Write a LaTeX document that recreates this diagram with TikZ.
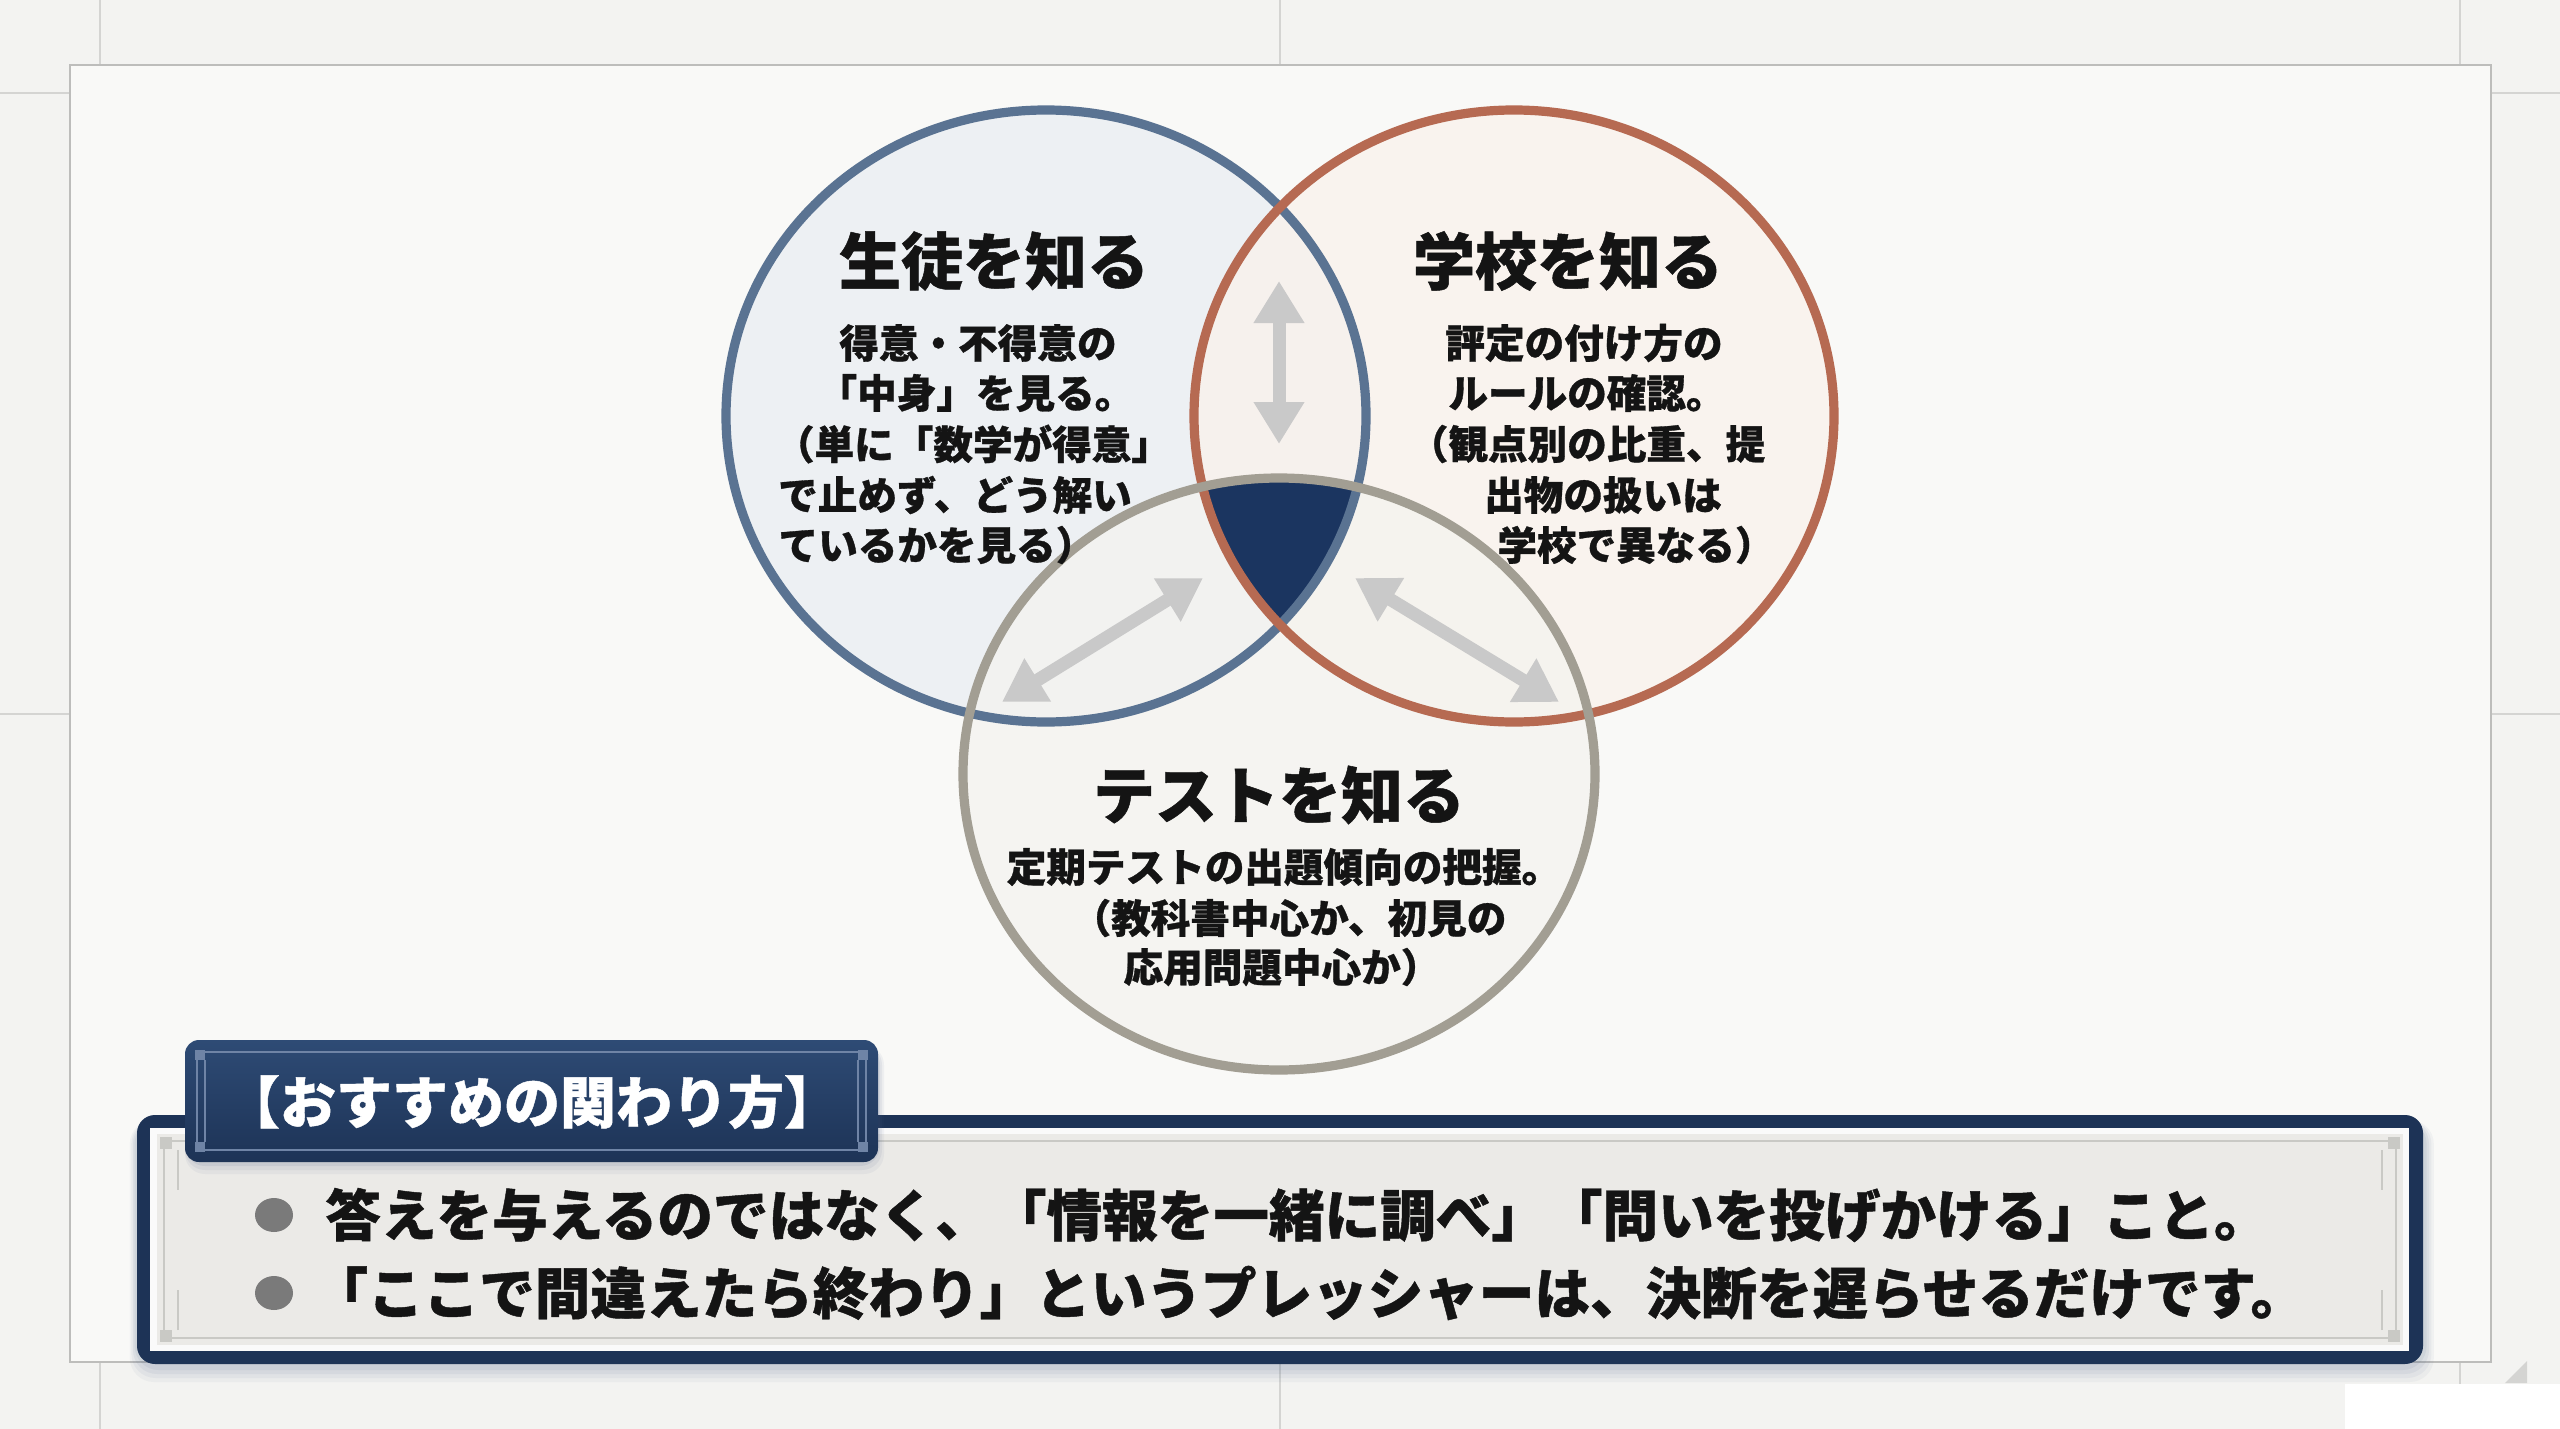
\documentclass[tikz,border=0pt]{standalone}
\usepackage{fontspec}
\setmainfont{Noto Sans CJK JP}[BoldFeatures={FakeBold=0.8}]
\usetikzlibrary{arrows.meta}
\definecolor{bg}{HTML}{F3F3F1}
\definecolor{paper}{HTML}{F9F9F7}
\definecolor{gridline}{HTML}{D4D4D2}
\definecolor{frameline}{HTML}{BDBDBB}
\definecolor{ringblue}{HTML}{5A7392}
\definecolor{ringred}{HTML}{B66A52}
\definecolor{ringgray}{HTML}{A29E93}
\definecolor{fillblue}{HTML}{EDF0F3}
\definecolor{fillred}{HTML}{FAF2EC}
\definecolor{fillgray}{HTML}{F4F3EF}
\definecolor{navy}{HTML}{1B3560}
\definecolor{boxnavy}{HTML}{1D3356}
\definecolor{boxnavylight}{HTML}{2E4B75}
\definecolor{arrowgray}{HTML}{C9C9C9}
\definecolor{ink}{HTML}{141414}
\definecolor{panel}{HTML}{EBEAE7}
\definecolor{panelline}{HTML}{C9C9C5}
\definecolor{tagline}{HTML}{6F84A6}
\definecolor{bulletgray}{HTML}{7A7A7A}
\definecolor{shadowblue}{HTML}{4A5F85}
\tikzset{
  ttl/.style={font=\bfseries\fontsize{31}{36}\selectfont, text=ink, inner sep=0pt},
  body/.style={font=\bfseries\fontsize{19.8}{24}\selectfont, text=ink, inner sep=0pt},
  bullettext/.style={font=\bfseries\fontsize{27.8}{34}\selectfont, text=ink, inner sep=0pt, anchor=west},
  tagtext/.style={font=\bfseries\fontsize{28}{34}\selectfont, text=white, inner sep=0pt},
  ring/.style={line width=4.6pt},
  dblarrow/.style={draw=arrowgray, line width=6.5pt,
    {Triangle[width=24pt,length=21pt]}-{Triangle[width=24pt,length=21pt]}},
  grid/.style={draw=gridline, line width=1pt},
  bulletdot/.style={fill=bulletgray, draw=none},
}
\begin{document}
\begin{tikzpicture}[x=0.5pt, y=-0.5pt]
% background and page frame
\fill[bg] (0,0) rectangle (2560,1429);
\useasboundingbox (0,0) rectangle (2560,1429);
\draw[grid] (100,0) -- (100,65);
\draw[grid] (1280,0) -- (1280,65);
\draw[grid] (2460,0) -- (2460,65);
\draw[grid] (0,93) -- (70,93);
\draw[grid] (2491,93) -- (2560,93);
\draw[grid] (0,714) -- (70,714);
\draw[grid] (2491,714) -- (2560,714);
\draw[grid] (100,1362) -- (100,1429);
\draw[grid] (1280,1362) -- (1280,1429);
\draw[grid] (2460,1362) -- (2460,1398);
\fill[white] (2345,1384) rectangle (2560,1429);
\fill[gridline] (2505,1383) -- (2527,1383) -- (2527,1361) -- cycle;
\draw[draw=frameline, fill=paper, line width=1.3pt] (70,65) rectangle (2491,1362);

% circle fills
\coordinate (cb) at (1046,416);
\coordinate (cr) at (1514,416);
\coordinate (cg) at (1279,774);
\fill[fillblue] (cb) ellipse [x radius=320, y radius=306];
\fill[fillred, opacity=0.75] (cr) ellipse [x radius=320, y radius=306];
\fill[fillgray, opacity=0.75] (cg) ellipse [x radius=316, y radius=296];
% triple intersection
\begin{scope}
  \clip (cb) ellipse [x radius=320, y radius=306];
  \clip (cr) ellipse [x radius=320, y radius=306];
  \fill[navy] (cg) ellipse [x radius=316, y radius=296];
\end{scope}
% rings
\draw[ring, ringblue] (cb) ellipse [x radius=320, y radius=306];
\draw[ring, ringred] (cr) ellipse [x radius=320, y radius=306];
\draw[ring, ringgray] (cg) ellipse [x radius=316, y radius=296];

% arrows
\coordinate (av1) at (1279,281);
\coordinate (av2) at (1279,444);
\coordinate (al1) at (1203,578);
\coordinate (al2) at (1002,702);
\coordinate (ar1) at (1355,578);
\coordinate (ar2) at (1559,702);
\draw[dblarrow] (av1) -- (av2);
\draw[dblarrow] (al1) -- (al2);
\draw[dblarrow] (ar1) -- (ar2);

% student circle
\node[ttl] (tb) at (994,261) {生徒を知る};
\node[body] (b1) at (978,343) {得意・不得意の};
\node[body] (b2) at (976,393) {「中身」を見る。};
\node[body] (b3) at (973,444) {（単に「数学が得意」};
\node[body] (b4) at (955,495) {で止めず、どう解い};
\node[body] (b5) at (937,545) {ているかを見る）};
% school circle
\node[ttl] (tr) at (1568,261) {学校を知る};
\node[body] (r1) at (1584,343) {評定の付け方の};
\node[body] (r2) at (1587,393) {ルールの確認。};
\node[body] (r3) at (1587,444) {（観点別の比重、提};
\node[body] (r4) at (1603,495) {出物の扱いは};
\node[body] (r5) at (1636,545) {学校で異なる）};
% test circle
\node[ttl] (tg) at (1279,795) {テストを知る};
\node[body] (g1) at (1284,867) {定期テストの出題傾向の把握。};
\node[body] (g2) at (1289,918) {（教科書中心か、初見の};
\node[body] (g3) at (1282,967) {応用問題中心か）};

% soft shadow under main panel
\foreach \s/\o in {18/0.05,14/0.06,10/0.07,6/0.08} {
  \fill[shadowblue, opacity=\o, rounded corners=12pt] (137-\s*0.4,1120) rectangle (2423+\s*0.6,1364+\s);
}
% main panel
\fill[boxnavy, rounded corners=9pt] (137,1115) rectangle (2423,1364);
\fill[white!96!gray] (150,1128) rectangle (2409,1351);
\fill[panel] (157,1134) rectangle (2403,1345);
\draw[panelline, line width=0.8pt] (164,1141) rectangle (2396,1338);
\fill[panelline] (160,1137) rectangle (172,1149);
\fill[panelline] (2388,1137) rectangle (2400,1149);
\fill[panelline] (160,1330) rectangle (172,1342);
\fill[panelline] (2388,1330) rectangle (2400,1342);
\draw[panelline, line width=1.2pt] (178,1150) -- (178,1190);
\draw[panelline, line width=1.2pt] (178,1330) -- (178,1290);
\draw[panelline, line width=1.2pt] (2382,1150) -- (2382,1190);
\draw[panelline, line width=1.2pt] (2382,1330) -- (2382,1290);

% tag box
\foreach \s/\o in {12/0.06,8/0.08,4/0.1} {
  \fill[shadowblue, opacity=\o, rounded corners=10pt] (185,1045) rectangle (878+\s*0.5,1162+\s);
}
\shade[top color=boxnavylight, bottom color=boxnavy, rounded corners=7pt] (185,1040) rectangle (878,1162);
\draw[tagline, line width=0.7pt] (197,1052) rectangle (866,1150);
\draw[tagline, line width=0.7pt] (205,1060) -- (205,1142);
\draw[tagline, line width=0.7pt] (858,1060) -- (858,1142);
\fill[tagline] (195,1050) rectangle (205,1060);
\fill[tagline] (858,1050) rectangle (868,1060);
\fill[tagline] (195,1142) rectangle (205,1152);
\fill[tagline] (858,1142) rectangle (868,1152);
\node[tagtext] (tag) at (532,1102) {【おすすめの関わり方】};

% bullets
\fill[bulletdot] (274,1215) ellipse [x radius=19, y radius=17];
\fill[bulletdot] (274,1293) ellipse [x radius=19, y radius=17];
\node[bullettext] (l1) at (325,1215) {答えを与えるのではなく、「情報を一緒に調べ」「問いを投げかける」こと。};
\node[bullettext] (l2) at (312,1293) {「ここで間違えたら終わり」というプレッシャーは、決断を遅らせるだけです。};
\end{tikzpicture}
\end{document}
